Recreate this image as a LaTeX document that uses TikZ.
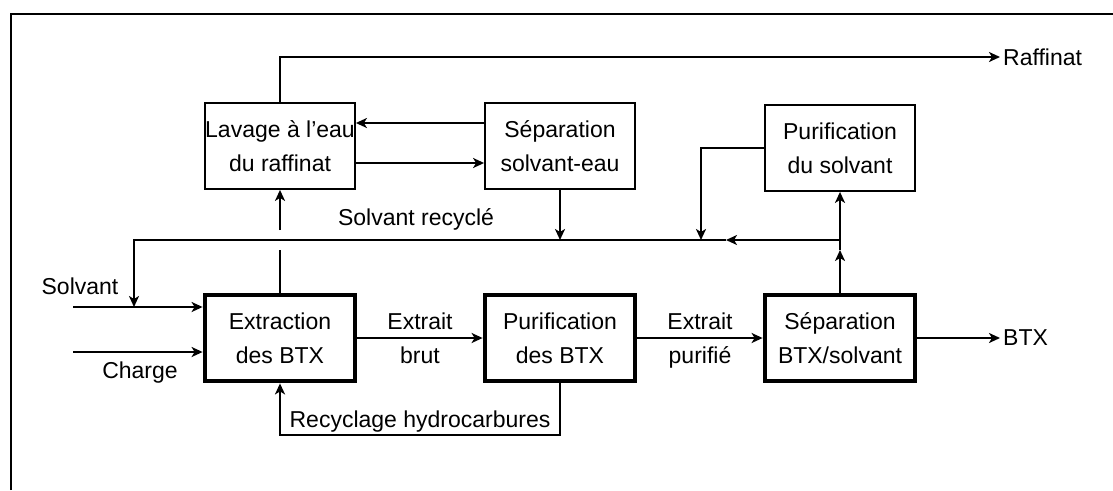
\documentclass[tikz,border=0pt]{standalone}
\usepackage{fontspec}
\setmainfont{Liberation Sans}
\usetikzlibrary{shapes.geometric, arrows, arrows.meta}
\tikzstyle{unit}     = [rectangle, minimum width=150pt, minimum height=86pt,
                        inner sep=0pt, text centered, align=center,
                        draw=black, line width=1.8pt]
\tikzstyle{mainunit} = [unit, line width=4.8pt]
\tikzstyle{tag}      = [inner sep=3pt]
\tikzstyle{frame}    = [line width=2.2pt]
\tikzstyle{arrow}    = [line width=2.2pt,->,
                        >={Stealth[length=11pt,width=10pt,inset=3pt]}]
\tikzstyle{line}     = [line width=2.2pt]

\begin{document}
\begin{tikzpicture}[x=1pt, y=-1pt, node distance=280pt,
                    font=\fontsize{23}{34}\selectfont]
\useasboundingbox (0,0) rectangle (1113,490);
\draw [frame] (11,490) -- (11,14) -- (1113,14);

\node (ext)  [mainunit] at (280,338)    {Extraction\\des BTX};
\node (pbtx) [mainunit, right of=ext]  {Purification\\des BTX};
\node (sbtx) [mainunit, right of=pbtx] {Séparation\\BTX/solvant};
\node (lav)  [unit, above of=ext,  node distance=192pt] {Lavage à l'eau\\du raffinat};
\node (ssep) [unit, above of=pbtx, node distance=192pt] {Séparation\\solvant-eau};
\node (psol) [unit, above of=sbtx, node distance=190pt] {Purification\\du solvant};

\node (raf)    [tag, anchor=west] at (1000,57)  {Raffinat};
\node (btx)    [tag, anchor=west] at (1000,338) {BTX};
\node (soltag) [tag] at (80,286)  {Solvant};
\node (chgtag) [tag] at (140,373) {Charge};
\node (srtag)  [tag] at (416,219) {Solvant recyclé};

\coordinate (sol)  at (73,307);
\coordinate (chg)  at (73,352);
\coordinate (rtl)  at (134,240);
\coordinate (rmid) at (726,240);
\coordinate (pcol) at (701,240);
\coordinate (rtr)  at (sbtx.north |- rtl);
\coordinate (xg)   at (ext.north |- rtl);

% raffinate side
\draw [arrow] (lav) |- (raf);
\draw [arrow] ([yshift=23pt]ssep.west) -- ([yshift=23pt]lav.east);
\draw [arrow] ([yshift=-17pt]lav.east) -- ([yshift=-17pt]ssep.west);
\draw [line]  (ext) -- ([yshift=-10pt]xg);
\draw [arrow] ([yshift=10pt]xg) -- (lav);

% solvent loop
\draw [arrow] (rtr)  -- (rmid);
\draw [arrow] (rmid) -- (rtl) -- (sol -| rtl);
\draw [arrow] (ssep) -- (ssep.south |- rtl);
\draw [arrow] (psol) -| (pcol);
\draw [arrow] (sbtx) -- ([yshift=-10pt]rtr);
\draw [arrow] ([yshift=-10pt]rtr) -- (psol);

% main line
\draw [arrow] (sol) -- (sol -| ext.west);
\draw [arrow] (chg) -- (chg -| ext.west);
\draw [arrow] (ext)  -- node[above=4pt]{Extrait} node[below=4pt]{brut} (pbtx);
\draw [arrow] (pbtx) -- node[above=4pt]{Extrait} node[below=4pt]{purifié} (sbtx);
\draw [arrow] (sbtx) -- (btx);
\draw [arrow] (pbtx) -- ++(0,97) -| node[pos=0.25, above, inner sep=2pt]{Recyclage hydrocarbures} (ext);
\end{tikzpicture}
\end{document}
